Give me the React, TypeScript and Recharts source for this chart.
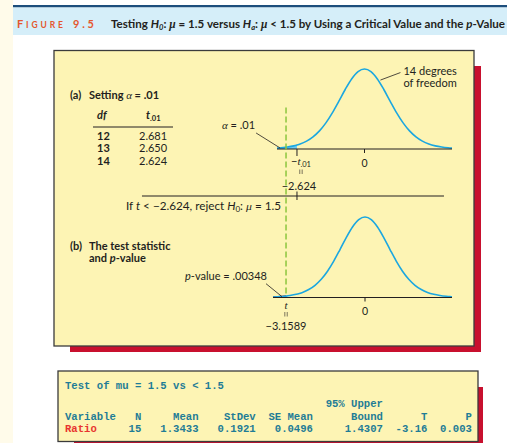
import React from 'react';
import { ComposedChart, Line, Area, XAxis, YAxis, ReferenceLine, ReferenceDot } from 'recharts';

// t values along the axis and the height of the 14 df t curve at each one
const tValues = [
  -3.68, -3.5, -3.4, -3.25, -3.1589, -3, -2.75, -2.624, -2.5, -2.25,
  -2, -1.75, -1.5, -1.25, -1, -0.75, -0.5, -0.25, 0,
  0.25, 0.5, 0.75, 1, 1.25, 1.5, 1.75, 2, 2.25, 2.5,
  2.75, 3, 3.25, 3.4, 3.48,
];
const density14 = [
  0.0025, 0.0035, 0.0043, 0.0058, 0.0069, 0.0095, 0.0154, 0.0197, 0.0246, 0.0387,
  0.0595, 0.0889, 0.1281, 0.1772, 0.2336, 0.2917, 0.3432, 0.379, 0.3919,
  0.379, 0.3432, 0.2917, 0.2336, 0.1772, 0.1281, 0.0889, 0.0595, 0.0387, 0.0246,
  0.0154, 0.0095, 0.0058, 0.0043, 0.0037,
];

const criticalT = -2.624;
const testStatistic = -3.1589;
const alphaText = '.01';
const pValueText = '.00348';

const dfList = ['12', '13', '14'];
const tCritList = ['2.681', '2.650', '2.624'];

// Minitab one-sample t output
const outTitle = 'Test of mu = 1.5 vs < 1.5';
const outUpper = '95% Upper';
const outHeaders = ['N', 'Mean', 'StDev', 'SE Mean', 'Bound', 'T', 'P'];
const outVariable = 'Ratio';
const outValues = ['15', '1.3433', '0.1921', '0.0496', '1.4307', '-3.16', '0.003'];
const colWidths = [9, 9, 9, 11, 7, 7];

const W = 507;
const H = 443;
const ink = '#231f20';
const curveBlue = '#1ba7e0';
const crimson = '#c8102e';
const panelYellow = '#fdf4b4';
const teal = '#1f7c96';
const sans = 'Lato, "Noto Sans", sans-serif';
const serif = '"Liberation Serif", serif';
const mono = '"Liberation Mono", monospace';

const layer: React.CSSProperties = { position: 'absolute', left: 0, top: 0 };

// fixed-width columns; spaces become no-break spaces so SVG keeps them
const nb = (s: string) => s.replace(/ /g, '\u00a0');
const headerLine =
  'Variable' + outHeaders[0].padStart(4) + outHeaders.slice(1).map((h, i) => h.padStart(colWidths[i])).join('');
const valueLine = outValues[0].padStart(7) + outValues.slice(1).map((v, i) => v.padStart(colWidths[i])).join('');

const VertEq = ({ x, y }: { x: number; y: number }) => (
  <g stroke={ink} strokeWidth={0.6}>
    <line x1={x - 1.2} y1={y} x2={x - 1.2} y2={y + 4.5} />
    <line x1={x + 1.2} y1={y} x2={x + 1.2} y2={y + 4.5} />
  </g>
);

function Backdrop() {
  return (
    <svg width={W} height={H} style={layer}>
      <rect x={0} y={0} width={W} height={H} fill="#ffffff" />
      <rect x={0} y={0} width={13} height={H} fill="#fffbea" />
      <rect x={13} y={5} width={W - 13} height={2.5} fill="#1d4e7c" />
      <rect x={13} y={7.5} width={W - 13} height={27.5} fill="#d5eef9" />

      <text x={17} y={28} fill="#e4572e" fontFamily={sans} fontWeight={700} fontSize={11} textLength={46} lengthAdjust="spacing">
        F<tspan fontSize={8.5}>IGURE</tspan>
      </text>
      <text x={73} y={28} fill="#e4572e" fontFamily={sans} fontWeight={700} fontSize={11} textLength={21} lengthAdjust="spacing">
        9.5
      </text>
      <text x={111} y={28} fill={ink} fontFamily={sans} fontWeight={700} fontSize={11.5} textLength={394} lengthAdjust="spacingAndGlyphs">
        Testing <tspan fontStyle="italic">H</tspan>
        <tspan fontSize={7.5} dy={2} fontStyle="italic">0</tspan>
        <tspan dy={-2}>: </tspan>
        <tspan fontFamily={serif} fontStyle="italic">μ</tspan> = 1.5 versus <tspan fontStyle="italic">H</tspan>
        <tspan fontSize={7.5} dy={2} fontStyle="italic">a</tspan>
        <tspan dy={-2}>: </tspan>
        <tspan fontFamily={serif} fontStyle="italic">μ</tspan> {'<'} 1.5 by Using a Critical Value and the{' '}
        <tspan fontStyle="italic">p</tspan>-Value
      </text>

      {/* main panel with its shadow */}
      <rect x={70} y={66} width={411} height={286} fill={crimson} />
      <rect x={54} y={50.5} width={420} height={295.5} fill={panelYellow} stroke="#3b3b3b" strokeWidth={1.3} />

      <g fontFamily={sans} fill={ink} fontSize={11}>
        <text x={70} y={98.5} fontWeight={700}>(a)</text>
        <text x={89} y={98.5} fontWeight={700}>
          Setting <tspan fontFamily={serif} fontStyle="italic" fontWeight={400}>α</tspan> = {alphaText}
        </text>
        <text x={97} y={118.5} fontWeight={700} fontStyle="italic">df</text>
        <text x={146} y={118.5} fontWeight={700}>
          <tspan fontStyle="italic">t</tspan>
          <tspan fontSize={7.5} dy={2.5}>{alphaText}</tspan>
        </text>
        <line x1={93} y1={127} x2={173} y2={127} stroke={ink} strokeWidth={1} />
        {dfList.map((d, i) => (
          <g key={d}>
            <text x={97} y={139.5 + i * 12.8} fontWeight={700}>{d}</text>
            <text x={139} y={139.5 + i * 12.8}>{tCritList[i]}</text>
          </g>
        ))}

        <text x={126} y={210} textLength={155} lengthAdjust="spacingAndGlyphs">
          If <tspan fontStyle="italic">t</tspan> {'<'} −2.624, reject <tspan fontStyle="italic">H</tspan>
          <tspan fontSize={7.5} dy={2}>0</tspan>
          <tspan dy={-2}>: </tspan>
          <tspan fontFamily={serif} fontStyle="italic">μ</tspan> = 1.5
        </text>

        <text x={70} y={249.5} fontWeight={700}>(b)</text>
        <text x={89} y={249.5} fontWeight={700}>The test statistic</text>
        <text x={89} y={262} fontWeight={700}>
          and <tspan fontStyle="italic">p</tspan>-value
        </text>
      </g>

      {/* software output box */}
      <rect x={74} y={387} width={409} height={80} fill={crimson} />
      <rect x={58} y={371} width={420} height={70.5} fill={panelYellow} stroke="#3b3b3b" strokeWidth={1.3} />
      <g fontFamily={mono} fontWeight={700} fontSize={10.6} fill={teal}>
        <text x={65} y={388.5}>{nb(outTitle)}</text>
        <text x={65} y={406.8}>{nb(outUpper.padStart(50))}</text>
        <text x={65} y={419.5}>{nb(headerLine)}</text>
        <text x={65} y={431.8}>
          <tspan fill="#e8342f">{outVariable}</tspan>
          {nb(valueLine)}
        </text>
      </g>
    </svg>
  );
}

// (a) the rejection point -t.01 = -2.624
function CriticalCurve() {
  const data = tValues
    .map((t, i) => ({ t, pdf: density14[i], tail: t <= criticalT ? density14[i] : null }))
    .filter((d) => d.t >= -3.4 && d.t <= 3.4);

  const critMark = ({ cx, cy }: any) => (
    <g fontFamily={sans} fill={ink} fontSize={11}>
      <line x1={cx} y1={cy} x2={cx} y2={cy + 7} stroke={ink} strokeWidth={1} />
      <text x={cx + 4} y={cy + 16} textAnchor="middle">
        −<tspan fontFamily={serif} fontStyle="italic">t</tspan>
        <tspan fontSize={7.5} dy={2}>{alphaText}</tspan>
      </text>
      <VertEq x={cx + 4} y={cy + 20.5} />
      <text x={cx + 2} y={cy + 40.5} textAnchor="middle">−2.624</text>
      <line x1={cx - 155} y1={cy + 47} x2={cx + 147} y2={cy + 47} stroke={ink} strokeWidth={1} />
      <line x1={cx} y1={cy + 42.5} x2={cx} y2={cy + 51} stroke={ink} strokeWidth={1} />
    </g>
  );

  const alphaNote = ({ cx, cy }: any) => (
    <g fontFamily={sans} fill={ink} fontSize={11}>
      <line x1={cx - 24} y1={cy - 15} x2={cx} y2={cy} stroke={ink} strokeWidth={0.8} />
      <text x={cx - 25} y={cy - 19} textAnchor="end">
        <tspan fontFamily={serif} fontStyle="italic">α</tspan> = {alphaText}
      </text>
    </g>
  );

  const dfNote = ({ cx, cy }: any) => (
    <g fontFamily={sans} fill={ink} fontSize={11}>
      <line x1={cx + 1} y1={cy - 2} x2={cx + 21} y2={cy - 9.5} stroke={ink} strokeWidth={0.8} />
      <text x={cx + 24} y={cy - 7}>14 degrees</text>
      <text x={cx + 24} y={cy + 4.5}>of freedom</text>
    </g>
  );

  return (
    <div style={layer}>
      <ComposedChart width={W} height={H} data={data} margin={{ top: 63.3, right: 55, bottom: 264, left: 277 }}>
        <XAxis
          type="number"
          dataKey="t"
          domain={[-3.4, 3.4]}
          ticks={[0]}
          height={30}
          tickSize={4}
          tickMargin={7}
          stroke={ink}
          tick={{ fill: ink, fontSize: 10.5, fontFamily: sans }}
        />
        <YAxis hide domain={[0, 0.42]} />
        <Area dataKey="tail" type="monotone" stroke="none" fill="#6ccbf1" fillOpacity={1} isAnimationActive={false} />
        <Line dataKey="pdf" type="monotone" stroke={curveBlue} strokeWidth={1.6} dot={false} isAnimationActive={false} />
        <ReferenceDot x={criticalT} y={0} r={0} ifOverflow="visible" shape={critMark} />
        <ReferenceDot x={-3.28} y={0.005} r={0} ifOverflow="visible" shape={alphaNote} />
        <ReferenceDot x={0.58} y={0.328} r={0} ifOverflow="visible" shape={dfNote} />
      </ComposedChart>
    </div>
  );
}

// (b) the observed t statistic and its p-value
function StatisticCurve() {
  const data = tValues.map((t, i) => ({ t, pdf: density14[i], tail: t <= testStatistic ? density14[i] : null }));

  const statMark = ({ cx, cy }: any) => (
    <g fontFamily={sans} fill={ink} fontSize={11}>
      <text x={cx} y={cy + 11} textAnchor="middle" fontFamily={serif} fontStyle="italic">t</text>
      <VertEq x={cx} y={cy + 14.5} />
      <text x={cx} y={cy + 32} textAnchor="middle">−3.1589</text>
    </g>
  );

  const pNote = ({ cx, cy }: any) => (
    <g fontFamily={sans} fill={ink} fontSize={11}>
      <line x1={cx - 16} y1={cy - 13} x2={cx} y2={cy} stroke={ink} strokeWidth={0.8} />
      <text x={cx - 15} y={cy - 16.5} textAnchor="end">
        <tspan fontStyle="italic">p</tspan>-value = {pValueText}
      </text>
    </g>
  );

  return (
    <div style={layer}>
      <ComposedChart width={W} height={H} data={data} margin={{ top: 211.2, right: 55, bottom: 115.5, left: 273 }}>
        <XAxis
          type="number"
          dataKey="t"
          domain={[-3.68, 3.48]}
          ticks={[0]}
          height={30}
          tickSize={4}
          tickMargin={6}
          stroke={ink}
          tick={{ fill: ink, fontSize: 10.5, fontFamily: sans }}
        />
        <YAxis hide domain={[0, 0.42]} />
        <ReferenceLine
          segment={[
            { x: testStatistic, y: 0.02 },
            { x: testStatistic, y: 0.937 },
          ]}
          ifOverflow="visible"
          stroke="#8cc63e"
          strokeWidth={1.5}
          strokeDasharray="6 3"
        />
        <Area dataKey="tail" type="monotone" stroke="#a3162f" strokeWidth={1.5} fill="#a3162f" fillOpacity={1} isAnimationActive={false} />
        <Line dataKey="pdf" type="monotone" stroke={curveBlue} strokeWidth={1.6} dot={false} isAnimationActive={false} />
        <ReferenceDot x={testStatistic} y={0} r={0} ifOverflow="visible" shape={statMark} />
        <ReferenceDot x={-3.32} y={0.004} r={0} ifOverflow="visible" shape={pNote} />
      </ComposedChart>
    </div>
  );
}

export default function App() {
  return (
    <div style={{ position: 'absolute', left: 0, top: 0, width: W, height: H, overflow: 'hidden' }}>
      <Backdrop />
      <CriticalCurve />
      <StatisticCurve />
    </div>
  );
}
